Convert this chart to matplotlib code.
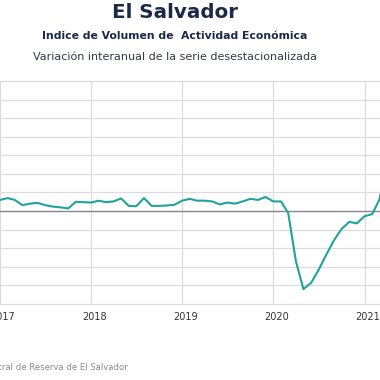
import matplotlib
matplotlib.use("Agg")
import matplotlib.pyplot as plt
import matplotlib.dates as mdates
from matplotlib.transforms import ScaledTranslation
import pandas as pd
import numpy as np

# Data: monthly year-on-year variation (%)
months = pd.date_range("2017-01-01", "2021-04-01", freq="MS")
values = [
    3.0, 3.5, 3.0, 1.6, 2.0, 2.2, 1.6, 1.2, 1.0, 0.7, 2.5, 2.4,   # 2017
    2.3, 2.8, 2.4, 2.6, 3.4, 1.4, 1.3, 3.5, 1.4, 1.4, 1.5, 1.7,   # 2018
    2.8, 3.3, 2.8, 2.8, 2.6, 1.8, 2.3, 2.0, 2.6, 3.3, 3.0, 3.8,   # 2019
    2.6, 2.6, -0.5, -13.5, -21.0, -19.3, -15.8, -11.7, -7.8, -4.8, -2.9, -3.3,  # 2020
    -1.4, -0.8, 3.0, 12.0,                                          # 2021
]
year_ticks = ["2017", "2018", "2019", "2020", "2021"]

title = "El Salvador"
subtitle = "Indice de Volumen de  Actividad Económica"
subtitle2 = "Variación interanual de la serie desestacionalizada"
source = "Fuente: Banco Central de Reserva de El Salvador"

W = H = 380
fig = plt.figure(figsize=(3.8, 3.8), dpi=100)

# axes placed so that it extends beyond the visible frame (cropped view)
ax_bottom_px, ax_top_px = 304, 81
ax = fig.add_axes([0, (H - ax_bottom_px) / H, 1, (ax_bottom_px - ax_top_px) / H])

ax.plot(months, values, color="#1fa39d", lw=1.5, solid_joinstyle="round",
        solid_capstyle="round", zorder=3)

d0 = mdates.date2num(pd.Timestamp("2018-01-01"))
d3 = mdates.date2num(pd.Timestamp("2021-01-01"))
dpp = (d3 - d0) / (364 - 81)
ax.set_xlim(d0 - 81 * dpp, d0 + (W - 81) * dpp)
ax.set_ylim(-25, 35)

ax.set_yticks(np.arange(-25, 36, 5))
ax.set_xticks([pd.Timestamp(f"{y}-01-01") for y in year_ticks])
ax.set_xticklabels(year_ticks)
ax.tick_params(axis="y", left=False, labelleft=False)
ax.tick_params(axis="x", length=0, pad=6, labelsize=7, labelcolor="#333333")
for lab in ax.get_xticklabels():
    lab.set_transform(lab.get_transform() + ScaledTranslation(3 / 100, 0, fig.dpi_scale_trans))
ax.grid(True, color="#dcdcdc", lw=0.9)
for gl in ax.get_ygridlines() + ax.get_xgridlines():
    gl.set_clip_on(False)
ax.axhline(0, color="#8a8a8a", lw=1.0, zorder=2)
for s in ax.spines.values():
    s.set_visible(False)

navy = "#1b2a47"
fig.text(175 / W, 1 - 12 / H, title, ha="center", va="center",
         fontsize=14.3, fontweight="bold", color=navy)
fig.text(175 / W, 1 - 36 / H, subtitle, ha="center", va="center",
         fontsize=7.8, fontweight="bold", color=navy)
fig.text(175 / W, 1 - 57 / H, subtitle2, ha="center", va="center",
         fontsize=8.0, color="#2e3b4a")
fig.text(128 / W, 1 - 367 / H, source, ha="right", va="center",
         fontsize=6.1, color="#8a8a8a")

fig.savefig("out.png", dpi=100)
